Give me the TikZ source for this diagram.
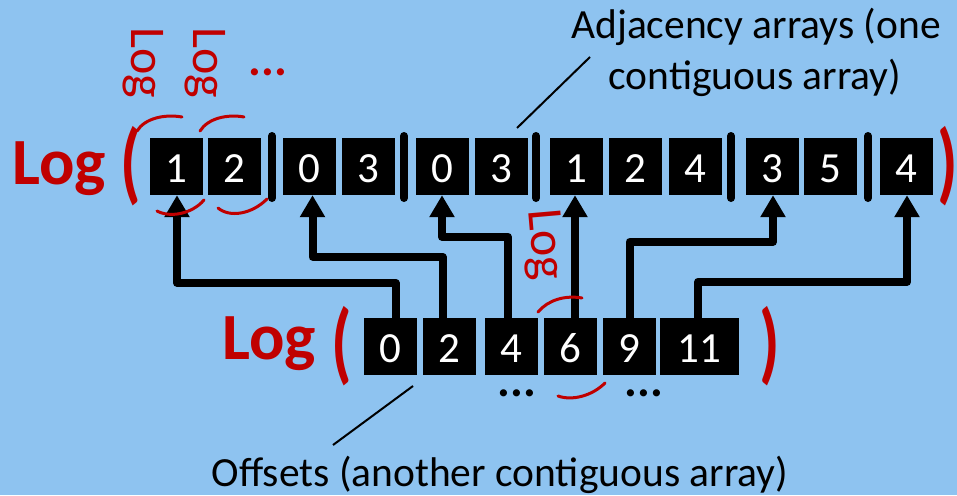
\documentclass[tikz,border=0pt]{standalone}
\usepackage{fontspec}
\setmainfont{Carlito}
\usetikzlibrary{arrows.meta}
\definecolor{bg}{RGB}{142,195,240}
\definecolor{myred}{RGB}{192,0,0}
\begin{document}
\begin{tikzpicture}[x=1pt,y=-1pt,
  box/.style={fill=black,text=white,minimum width=53pt,minimum height=57pt,inner sep=0pt,text height=32pt,font=\fontsize{43}{44}\selectfont},
  sepbar/.style={line width=8pt,line cap=round},
  arr/.style={line width=8pt,line join=round,line cap=round,-{Triangle[width=24pt,length=22pt]}},
  big/.style={text=myred,font=\bfseries\fontsize{66}{70}\selectfont,inner sep=0pt},
  paren/.style={text=myred,font=\bfseries\fontsize{66}{70}\selectfont,inner sep=0pt,yscale=1.35},
  hand/.style={text=myred,font=\fontsize{50}{54}\selectfont,inner sep=0pt},
  harc/.style={myred,line width=3pt,line cap=round},
  lbl/.style={font=\fontsize{41.5}{44}\selectfont,inner sep=0pt},
  dotsb/.style={font=\bfseries\fontsize{48}{48}\selectfont,inner sep=0pt}]
\fill[bg] (0,0) rectangle (957,495);
\useasboundingbox (0,0) rectangle (957,495);
% top row
\node[box] (t1) at (176,166.5) {1};
\node[box] (t2) at (234.5,166.5) {2};
\node[box] (t3) at (309.5,166.5) {0};
\node[box] (t4) at (368,166.5) {3};
\node[box] (t5) at (442,166.5) {0};
\node[box] (t6) at (501,166.5) {3};
\node[box] (t7) at (576,166.5) {1};
\node[box] (t8) at (635,166.5) {2};
\node[box] (t9) at (695,166.5) {4};
\node[box] (t10) at (772,166.5) {3};
\node[box] (t11) at (830,166.5) {5};
\node[box] (t12) at (906,166.5) {4};
% separators
\foreach \x in {272,404,536,731,868} \draw[sepbar] (\x,136) -- (\x,198);
% bottom row
\node[box] (b1) at (390.5,346.5) {0};
\node[box] (b2) at (449.5,346.5) {2};
\node[box] (b3) at (511,346.5) {4};
\node[box] (b4) at (570.5,346.5) {6};
\node[box] (b5) at (629.5,346.5) {9};
\node[box,minimum width=79pt] (b6) at (699.5,346.5) {11};
% arrows
\draw[arr] ([xshift=5pt]b1.north) -- ++(0,-35) -| ([xshift=1pt]t1.south);
\draw[arr] ([xshift=-7pt]b2.north) -- ++(0,-61) -| ([xshift=3pt]t3.south);
\draw[arr] ([xshift=-3pt]b3.north) -- ++(0,-81) -| (t5.south);
\draw[arr] ([xshift=4.5pt]b4.north) -- ([xshift=-1pt]t7.south);
\draw[arr] (b5.north) -- ++(0,-76) -| ([xshift=1pt]t10.south);
\draw[arr] ([xshift=-1.5pt]b6.north) -- ++(0,-36) -| ([xshift=1pt]t12.south);
% red Log ( ... )
\node[big,anchor=base west] (logT) at (12,184) {Log};
\node[paren] (lpT) at (131,166) {(};
\node[paren] (rpT) at (948,166) {)};
\node[big,anchor=base west] (logB) at (222,359) {Log};
\node[paren] (lpB) at (342,346) {(};
\node[paren] (rpB) at (770,346) {)};
% handwritten annotations
\node[hand,rotate=-90] (h1) at (143,63) {Log};
\node[hand,rotate=-90] (h2) at (205,63) {Log};
\node[dotsb,text=myred] (rd) at (268,72) {...};
\node[hand,rotate=-85] (h3) at (543,245) {Log};
\draw[harc] (137,131) .. controls (145,118) and (165,114) .. (182,117);
\draw[harc] (200,131) .. controls (208,118) and (228,114) .. (244,117);
\draw[harc] (157,211) .. controls (170,218) and (192,214) .. (204,200);
\draw[harc] (218,208) .. controls (230,218) and (252,214) .. (267,199);
\draw[harc] (538,312) .. controls (548,300) and (565,295) .. (582,298);
\draw[harc] (558,396) .. controls (572,401) and (592,396) .. (605,383);
% black dots under bottom row
\node[dotsb] (d1) at (517,393) {...};
\node[dotsb] (d2) at (644,393) {...};
% labels
\node[lbl,anchor=base] (adj1) at (756,39) {Adjacency arrays (one};
\node[lbl,anchor=base] (adj2) at (755,89) {contiguous array)};
\node[lbl,anchor=base] (offs) at (500,486) {Offsets (another contiguous array)};
\coordinate (adjA) at (590,57);
\coordinate (adjB) at (517,128);
\draw[line width=2pt] (adjA) -- (adjB);
\coordinate (offA) at (413,386);
\coordinate (offB) at (333,445);
\draw[line width=2pt] (offA) -- (offB);
\end{tikzpicture}
\end{document}
